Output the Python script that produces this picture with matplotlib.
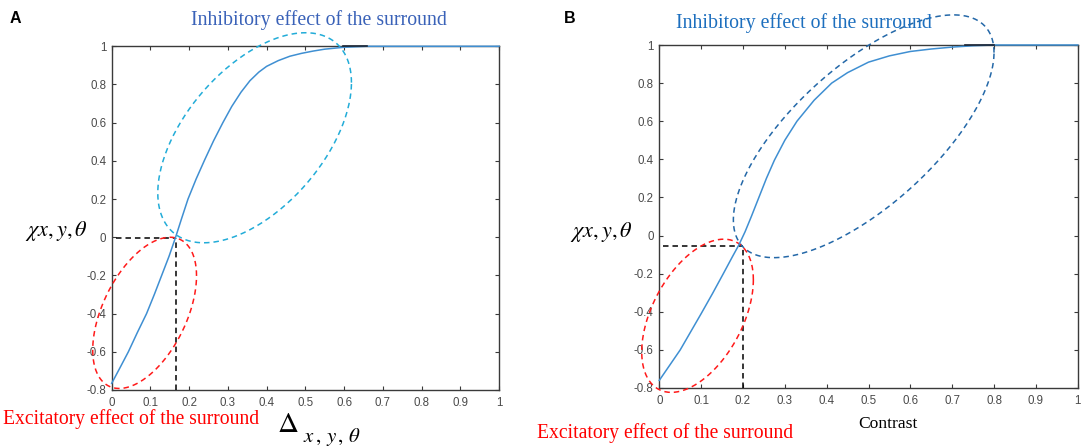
import numpy as np
import matplotlib
matplotlib.use("Agg")
import matplotlib.pyplot as plt

plt.rcParams['mathtext.fontset'] = 'stix'

# ---------------- data ----------------
# Panel A: response curve
a_x = [0.0, 0.021, 0.043, 0.066, 0.09, 0.110, 0.129, 0.148, 0.165, 0.18, 0.197,
       0.218, 0.24, 0.263, 0.287, 0.31, 0.334, 0.357, 0.38, 0.40, 0.43, 0.46,
       0.49, 0.52, 0.55, 0.60, 0.66, 1.0]
a_y = [-0.765, -0.685, -0.60, -0.50, -0.40, -0.30, -0.20, -0.10, 0.0, 0.095, 0.20,
       0.305, 0.405, 0.505, 0.60, 0.685, 0.76, 0.82, 0.865, 0.895, 0.925, 0.948,
       0.963, 0.975, 0.985, 0.995, 1.0, 1.0]

# Panel B: response curve
b_x = [0.0, 0.025, 0.05, 0.075, 0.10, 0.127, 0.153, 0.175, 0.19, 0.205, 0.22,
       0.238, 0.256, 0.275, 0.30, 0.329, 0.37, 0.412, 0.45, 0.50, 0.55, 0.60,
       0.65, 0.70, 0.75, 0.80, 1.0]
b_y = [-0.76, -0.68, -0.60, -0.505, -0.41, -0.305, -0.20, -0.11, -0.05, 0.02, 0.10,
       0.20, 0.30, 0.395, 0.50, 0.60, 0.71, 0.80, 0.855, 0.91, 0.943, 0.966,
       0.979, 0.989, 0.996, 1.0, 1.0]

# crossing points marked by dashed guides
a_cross = (0.165, -0.005)
b_cross = (0.200, -0.056)

x_ticks = [0, 0.1, 0.2, 0.3, 0.4, 0.5, 0.6, 0.7, 0.8, 0.9, 1]
x_tick_labels = ['0', '0.1', '0.2', '0.3', '0.4', '0.5', '0.6', '0.7', '0.8', '0.9', '1']
y_ticks = [-0.8, -0.6, -0.4, -0.2, 0, 0.2, 0.4, 0.6, 0.8, 1]
y_tick_labels = ['-0.8', '-0.6', '-0.4', '-0.2', '0', '0.2', '0.4', '0.6', '0.8', '1']

inhib_label = 'Inhibitory effect of the surround'
excit_label = 'Excitatory effect of the surround'

# annotation ellipses: (cx, cy, half-width, half-height, cos(phase))
a_inhib_ell = (0.369, 0.521, 0.250, 0.550, 0.525)
a_excit_ell = (0.085, -0.396, 0.134, 0.396, 0.49)
b_inhib_ell = (0.4885, 0.521, 0.3115, 0.637, 0.689)
b_excit_ell = (0.0914, -0.421, 0.1334, 0.402, 0.47)

W, H = 1084, 447
fig = plt.figure(figsize=(W / 100, H / 100), dpi=100)

def fx(px):
    return px / W

def fy(py):
    return 1 - py / H

axA = fig.add_axes([fx(111.7), fy(390), (499 - 111.7) / W, (390 - 46.3) / H])
axB = fig.add_axes([fx(659.3), fy(388), (1077.7 - 659.3) / W, (388 - 45) / H])

curve_col = '#3f8fd2'
spine_col = '#3a3a3a'

def style(ax):
    ax.set_xlim(0, 1)
    ax.set_ylim(-0.8, 1)
    ax.set_xticks(x_ticks)
    ax.set_xticklabels(x_tick_labels)
    ax.set_yticks(y_ticks)
    ax.set_yticklabels(y_tick_labels)
    ax.tick_params(direction='in', length=3, width=0.8, color=spine_col,
                   top=True, right=True, labelsize=8.3, labelcolor='#4a4a4a')
    ax.tick_params(axis='x', pad=5)
    ax.tick_params(axis='y', pad=4)
    for lab in ax.get_xticklabels() + ax.get_yticklabels():
        lab.set_family('Liberation Sans')
    for s in ax.spines.values():
        s.set_color(spine_col)
        s.set_linewidth(1.0)

def ellipse(ax, params, color):
    cx, cy, hx, hy, cphi = params
    phi = np.arccos(cphi)
    t = np.linspace(0, 2 * np.pi, 300)
    ax.plot(cx + hx * np.cos(t), cy + hy * np.cos(t - phi), color=color,
            lw=1.1, linestyle=(0, (3.6, 2.6)), clip_on=False, zorder=4)

def guides(ax, pt):
    x0, y0 = pt
    ax.plot([0.01, x0], [y0, y0], color='black', lw=1.1, linestyle=(0, (3.6, 2.6)), zorder=3)
    ax.plot([x0, x0], [-0.8, y0], color='black', lw=1.1, linestyle=(0, (3.6, 2.6)), zorder=3)

for ax in (axA, axB):
    style(ax)

axA.plot(a_x, a_y, color=curve_col, lw=1.1, zorder=5, clip_on=False)
axA.plot([0.598, 0.658], [1.0, 1.0], color='#1a2230', lw=1.2, zorder=6, clip_on=False)
guides(axA, a_cross)
ellipse(axA, a_inhib_ell, '#22acd8')
ellipse(axA, a_excit_ell, '#ff1a1a')

axB.plot(b_x, b_y, color=curve_col, lw=1.1, zorder=5, clip_on=False)
axB.plot([0.73, 0.80], [1.0, 1.0], color='#1a2230', lw=1.2, zorder=6, clip_on=False)
guides(axB, b_cross)
ellipse(axB, b_inhib_ell, '#2468a8')
ellipse(axB, b_excit_ell, '#ff1a1a')

# panel letters
fig.text(fx(10), fy(11), 'A', fontsize=11.5, fontweight='bold', family='Liberation Sans', va='top')
fig.text(fx(564), fy(11), 'B', fontsize=11.5, fontweight='bold', family='Liberation Sans', va='top')

# annotation texts
fig.text(fx(190.7), fy(25), inhib_label, fontsize=14.3, family='Liberation Serif', color='#3a62b8', va='baseline')
fig.text(fx(676), fy(28), inhib_label, fontsize=14.3, family='Liberation Serif', color='#1d6fbe', va='baseline')
fig.text(fx(2.7), fy(424), excit_label, fontsize=14.1, family='Liberation Serif', color='#ff0000', va='baseline')
fig.text(fx(537), fy(438), excit_label, fontsize=14.1, family='Liberation Serif', color='#ff0000', va='baseline')
fig.text(fx(858), fy(428), 'Contrast', fontsize=12.6, family='Liberation Serif', color='black', va='baseline')

# axis symbols
fig.text(fx(25), fy(236), r'$\chi x,y,\theta$', fontsize=16, color='black', va='baseline')
fig.text(fx(570), fy(237), r'$\chi x,y,\theta$', fontsize=16, color='black', va='baseline')
fig.text(fx(277), fy(432), r'$\Delta$', fontsize=21, color='black', va='baseline')
fig.text(fx(303), fy(442), r'$x\,,\,y\,,\,\theta$', fontsize=15, color='black', va='baseline')

fig.savefig('out.png', dpi=100)
